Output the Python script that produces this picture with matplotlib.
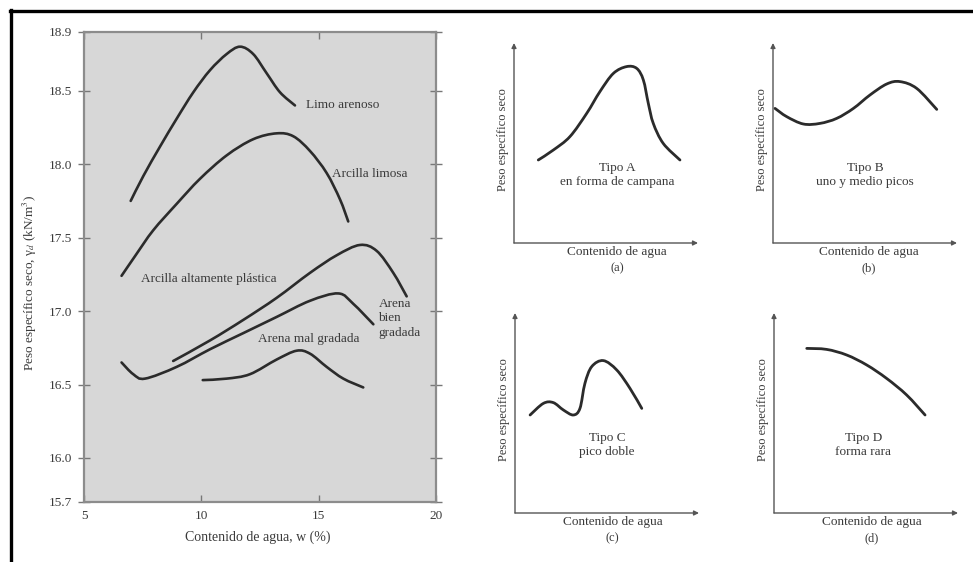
import matplotlib
matplotlib.use("Agg")
import matplotlib.pyplot as plt
from matplotlib.lines import Line2D
from matplotlib.path import Path
from matplotlib.patches import PathPatch

plt.rcParams['font.family'] = ['Liberation Serif', 'DejaVu Serif']
plt.rcParams['mathtext.fontset'] = 'stix'

# ---------------- main chart data ----------------
x_ticks = [5, 10, 15, 20]
y_ticks = [15.7, 16.0, 16.5, 17.0, 17.5, 18.0, 18.5, 18.9]

limo_w = [6.99, 7.53, 8.24, 8.95, 9.66, 10.37, 11.08, 11.65, 12.21, 12.78, 13.35, 13.99]
limo_g = [17.75, 17.92, 18.12, 18.31, 18.49, 18.64, 18.75, 18.80, 18.75, 18.62, 18.49, 18.40]

arc_lim_w = [6.60, 7.20, 7.95, 8.95, 9.94, 11.08, 12.21, 13.21, 13.92, 14.63, 15.34, 15.91, 16.26]
arc_lim_g = [17.24, 17.38, 17.55, 17.73, 17.90, 18.06, 18.17, 18.21, 18.19, 18.09, 17.94, 17.76, 17.61]

arc_alt_w = [8.80, 10.37, 11.79, 13.21, 14.63, 15.77, 16.76, 17.47, 18.18, 18.75]
arc_alt_g = [16.66, 16.80, 16.94, 17.09, 17.26, 17.38, 17.45, 17.41, 17.26, 17.10]

are_bien_w = [6.60, 7.10, 7.60, 8.95, 10.37, 11.79, 13.21, 14.63, 15.84, 16.47, 17.33]
are_bien_g = [16.65, 16.57, 16.54, 16.62, 16.74, 16.85, 16.96, 17.07, 17.12, 17.05, 16.91]

are_mal_w = [10.06, 11.08, 12.07, 13.21, 14.06, 14.63, 15.34, 16.05, 16.90]
are_mal_g = [16.53, 16.54, 16.57, 16.67, 16.73, 16.71, 16.62, 16.54, 16.48]

curve_names = ["Limo arenoso", "Arcilla limosa", "Arcilla altamente plástica",
               "Arena\nbien\ngradada", "Arena mal gradada"]

# ---------------- small panels data (arbitrary units) ----------------
a_x = [1.32, 2.14, 3.04, 3.95, 4.67, 5.40, 6.12, 6.67, 7.03, 7.30, 7.57, 8.11, 9.02]
a_y = [4.15, 4.65, 5.32, 6.48, 7.57, 8.48, 8.82, 8.73, 8.15, 6.98, 5.98, 4.98, 4.15]

b_x = [0.11, 0.74, 1.65, 2.55, 3.46, 4.37, 5.27, 6.18, 6.90, 7.81, 8.90]
b_y = [6.73, 6.32, 5.95, 5.98, 6.23, 6.73, 7.40, 7.95, 8.07, 7.73, 6.68]

c_x = [0.82, 1.54, 2.08, 2.63, 3.17, 3.53, 3.80, 4.17, 4.80, 5.53, 6.25, 6.89]
c_y = [4.90, 5.48, 5.52, 5.15, 4.90, 5.23, 6.48, 7.32, 7.62, 7.15, 6.23, 5.23]

d_x = [1.78, 2.86, 3.95, 5.04, 6.12, 7.21, 8.21]
d_y = [8.23, 8.18, 7.90, 7.40, 6.73, 5.90, 4.90]

panel_titles = ["Tipo A\nen forma de campana", "Tipo B\nuno y medio picos",
                "Tipo C\npico doble", "Tipo D\nforma rara"]
panel_letters = ["(a)", "(b)", "(c)", "(d)"]

# ---------------- helpers ----------------
def smooth_path(xs, ys):
    """Catmull-Rom curve through the read points, drawn as cubic Bezier segments."""
    pts = list(zip(xs, ys))
    n = len(pts)
    verts = [pts[0]]
    codes = [Path.MOVETO]
    for i in range(n - 1):
        p0 = pts[i - 1] if i > 0 else pts[i]
        p1 = pts[i]
        p2 = pts[i + 1]
        p3 = pts[i + 2] if i + 2 < n else pts[i + 1]
        c1 = (p1[0] + (p2[0] - p0[0]) / 6.0, p1[1] + (p2[1] - p0[1]) / 6.0)
        c2 = (p2[0] - (p3[0] - p1[0]) / 6.0, p2[1] - (p3[1] - p1[1]) / 6.0)
        verts += [c1, c2, p2]
        codes += [Path.CURVE4, Path.CURVE4, Path.CURVE4]
    return Path(verts, codes)

def draw_curve(a, xs, ys, lw):
    patch = PathPatch(smooth_path(xs, ys), fill=False, edgecolor=line_c, lw=lw,
                      capstyle='round', joinstyle='round',
                      transform=a.transData, clip_on=False)
    a.add_patch(patch)

# ---------------- figure ----------------
W, H = 973, 562
fig = plt.figure(figsize=(W / 100, H / 100), dpi=100)
fig.patch.set_facecolor('white')

def fbox(l, t, r, b):
    return [l / W, 1 - b / H, (r - l) / W, (b - t) / H]

txt_c = '#3a3a3a'
line_c = '#2b2b2b'

ax = fig.add_axes(fbox(84, 32, 436, 502))
ax.set_facecolor('#d7d7d7')
for s in ax.spines.values():
    s.set_color('#8c8c8c')
    s.set_linewidth(1.6)
ax.set_xlim(5, 20)
ax.set_ylim(15.7, 18.9)
ax.set_xticks(x_ticks)
ax.set_xticklabels([str(v) for v in x_ticks])
ax.set_yticks(y_ticks)
ax.set_yticklabels([f"{v:.1f}" for v in y_ticks])
ax.tick_params(axis='x', direction='in', length=5, width=1, color='#777777',
               top=True, labelsize=9.5, labelcolor=txt_c, pad=6)
ax.tick_params(axis='y', direction='inout', length=9, width=1, color='#777777',
               right=True, labelsize=9.5, labelcolor=txt_c, pad=4)

series = [(limo_w, limo_g), (arc_lim_w, arc_lim_g), (arc_alt_w, arc_alt_g),
          (are_bien_w, are_bien_g), (are_mal_w, are_mal_g)]
for xs, ys in series:
    draw_curve(ax, xs, ys, 1.9)

lbl_pos = [(14.45, 18.40, 'left'), (15.55, 17.93, 'left'), (7.45, 17.22, 'left'),
           (17.55, 16.95, 'left'), (12.4, 16.81, 'left')]
for name, (lx, ly, ha) in zip(curve_names, lbl_pos):
    ax.text(lx, ly, name, fontsize=9.5, color=txt_c, ha=ha, va='center',
            linespacing=1.25)

fig.text(30 / W, 1 - 283 / H, "Peso específico seco, γ$_d$ (kN/m$^3$)",
         rotation=90, ha='center', va='center', fontsize=9.5, color=txt_c)
fig.text(258 / W, 1 - 537 / H, "Contenido de agua, w (%)", ha='center',
         va='center', fontsize=10, color=txt_c)

# ---------------- small panels ----------------
panels = [
    (514, 43, 698, 243, a_x, a_y, 5.6, 5.6, 5.15),
    (773, 43, 957, 243, b_x, b_y, 5.0, 5.2, 5.15),
    (515, 313, 699, 513, c_x, c_y, 5.0, 5.3, 5.15),
    (774, 313, 958, 513, d_x, d_y, 4.85, 5.3, 5.15),
]
for i, (l, t, r, b, px, py, tx, cx, ly) in enumerate(panels):
    pa = fig.add_axes(fbox(l, t, r, b))
    pa.set_xlim(0, 10)
    pa.set_ylim(0, 10)
    pa.axis('off')
    arrow = dict(arrowstyle='-|>', color='#555555', lw=1.0, mutation_scale=7,
                 shrinkA=0, shrinkB=0)
    pa.annotate('', xy=(10, 0), xytext=(0, 0), arrowprops=arrow,
                annotation_clip=False)
    pa.annotate('', xy=(0, 10), xytext=(0, 0), arrowprops=arrow,
                annotation_clip=False)
    draw_curve(pa, px, py, 2.0)
    pa.text(tx, 3.4, panel_titles[i], ha='center', va='center', fontsize=9.5,
            color=txt_c, linespacing=1.2)
    pa.text(cx, -0.45, "Contenido de agua", ha='center', va='center',
            fontsize=9.5, color=txt_c)
    pa.text(cx, -1.25, panel_letters[i], ha='center', va='center',
            fontsize=9, color=txt_c)
    pa.text(-0.6, ly, "Peso específico seco", rotation=90, ha='center',
            va='center', fontsize=9, color=txt_c)

# ---------------- outer frame (top and left) ----------------
fig.add_artist(Line2D([10 / W, 1.0], [1 - 11 / H, 1 - 11 / H],
                      transform=fig.transFigure, color='black', lw=2.4))
fig.add_artist(Line2D([11 / W, 11 / W], [1 - 10 / H, 0.0],
                      transform=fig.transFigure, color='black', lw=2.4))

fig.savefig("out.png", dpi=100, facecolor='white')
